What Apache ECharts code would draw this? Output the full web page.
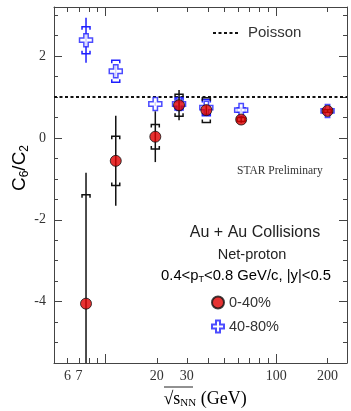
<!DOCTYPE html>
<html>
<head>
<meta charset="utf-8">
<script src="https://cdn.jsdelivr.net/npm/echarts@6/dist/echarts.min.js"></script>
<style>
  html, body { margin: 0; padding: 0; background: #fff; }
  #container { width: 351px; height: 411px; }
</style>
</head>
<body>
<div id="container"></div>
<script>
// collision energies (GeV)
var energies = [7.7, 11.5, 19.6, 27, 39, 62.4, 200];
// 0-40% centrality
var central = [-4.05, -0.56, 0.03, 0.80, 0.68, 0.45, 0.66];
var centralStat = [3.2, 1.1, 0.62, 0.37, 0.12, 0.08, 0.05];
var centralSys = [2.66, 0.6, 0.3, 0.27, 0.3, 0.05, 0.03];
// 40-80% centrality
var peripheral = [2.39, 1.63, 0.83, 0.83, 0.74, 0.68, 0.66];
var peripheralStat = [0.55, 0.15, 0.05, 0.1, 0.08, 0.05, 0.03];
var peripheralSys = [0.33, 0.27, 0, 0.15, 0.2, 0.05, 0];
var poissonValue = 1;

var xRange = [5, 260];
var yRange = [-5.5, 3.2];
var xMinorTicks = [6, 7, 8, 9, 20, 30, 40, 50, 60, 70, 80, 90, 200];
var xMajorTicks = [10, 100];
var xLabels = [6, 7, 20, 30, 100, 200];
var yMajorTicks = [-4, -2, 0, 2];

var lg = function (v) { return Math.log10(v); };
var serif = '"Liberation Serif", "DejaVu Serif", serif';
var sans = '"Liberation Sans", Arial, sans-serif';

function points(ys, stat, sys) {
    return energies.map(function (e, i) {
        return [lg(e), ys[i], stat[i], sys[i]];
    });
}

function errRender(color) {
    return function (params, api) {
        var x = api.value(0), y = api.value(1), st = api.value(2), sy = api.value(3);
        var p0 = api.coord([x, y + st]), p1 = api.coord([x, y - st]);
        var children = [{
            type: 'line',
            shape: { x1: p0[0], y1: p0[1], x2: p1[0], y2: p1[1] },
            style: { stroke: color, lineWidth: 1.5 }
        }];
        if (sy > 0) {
            var t = api.coord([x, y + sy]), b = api.coord([x, y - sy]);
            var w = 4, h = 3;
            children.push({
                type: 'polyline',
                shape: { points: [[t[0] - w, t[1] + h], [t[0] - w, t[1]], [t[0] + w, t[1]], [t[0] + w, t[1] + h]] },
                style: { stroke: color, fill: null, lineWidth: 1.5 }
            });
            children.push({
                type: 'polyline',
                shape: { points: [[b[0] - w, b[1] - h], [b[0] - w, b[1]], [b[0] + w, b[1]], [b[0] + w, b[1] - h]] },
                style: { stroke: color, fill: null, lineWidth: 1.5 }
            });
        }
        return { type: 'group', children: children };
    };
}

function xAxis(pos, ticks, len, showLine, labels) {
    return {
        type: 'value',
        position: pos,
        offset: 0,
        min: lg(xRange[0]),
        max: lg(xRange[1]),
        splitLine: { show: false },
        axisLine: { show: showLine, onZero: false, lineStyle: { color: '#444', width: 1 } },
        axisTick: { show: true, inside: true, length: len, customValues: ticks.map(lg), lineStyle: { color: '#444' } },
        axisLabel: labels ? {
            show: true,
            customValues: labels.map(lg),
            margin: 6,
            fontFamily: serif,
            fontSize: 14,
            color: '#333',
            formatter: function (v) { return String(Math.round(Math.pow(10, v))); }
        } : { show: false }
    };
}

function yAxis(pos, major, showLine, labels) {
    var a = {
        type: 'value',
        position: pos,
        offset: 0,
        min: yRange[0],
        max: yRange[1],
        splitLine: { show: false },
        axisLine: { show: showLine, onZero: false, lineStyle: { color: '#444', width: 1 } },
        axisTick: { show: true, inside: true, length: major ? 8 : 4, lineStyle: { color: '#444' } },
        axisLabel: { show: false }
    };
    if (major) {
        a.axisTick.customValues = yMajorTicks;
    } else {
        a.interval = 0.5;
    }
    if (labels) {
        a.axisLabel = {
            show: true,
            customValues: yMajorTicks,
            margin: 8,
            fontFamily: serif,
            fontSize: 14,
            color: '#333'
        };
    }
    return a;
}

var crossPath = 'path://M4,0 H8 V4 H12 V8 H8 V12 H4 V8 H0 V4 H4 Z';

var myChart = echarts.init(document.getElementById('container'));
var option = {
    animation: false,
    grid: { left: 54, top: 7, right: 4, bottom: 48 },
    legend: [{
        data: ['0-40%', '40-80%'],
        orient: 'vertical',
        left: 206,
        top: 290,
        itemWidth: 12,
        itemHeight: 12,
        itemGap: 9,
        textStyle: { fontFamily: sans, fontSize: 14.5, color: '#333' }
    }],
    xAxis: [
        xAxis('bottom', xMinorTicks, 5, true, xLabels),
        xAxis('bottom', xMajorTicks, 9, false, null),
        xAxis('top', xMinorTicks, 5, true, null),
        xAxis('top', xMajorTicks, 9, false, null)
    ],
    yAxis: [
        yAxis('left', false, true, true),
        yAxis('left', true, false, false),
        yAxis('right', false, true, false),
        yAxis('right', true, false, false)
    ],
    graphic: [
        {
            type: 'line',
            shape: { x1: 213, y1: 33, x2: 239, y2: 33 },
            style: { stroke: '#111', lineWidth: 2, lineDash: [3, 2.5] }
        },
        {
            type: 'text', x: 248, y: 33,
            style: { text: 'Poisson', font: '15px ' + sans, fill: '#333', verticalAlign: 'middle' }
        },
        {
            type: 'text', left: 237, top: 165,
            style: { text: 'STAR Preliminary', font: '11.5px ' + serif, fill: '#333' }
        },
        {
            type: 'text', x: 255, y: 233,
            style: { text: 'Au + Au Collisions', font: '16px ' + sans, fill: '#222', align: 'center', verticalAlign: 'middle' }
        },
        {
            type: 'text', x: 252, y: 255,
            style: { text: 'Net-proton', font: '14.5px ' + sans, fill: '#222', align: 'center', verticalAlign: 'middle' }
        },
        {
            type: 'text', x: 246, y: 276,
            style: {
                text: '{n|0.4<p}{s|T}{n|<0.8 GeV/c, |y|<0.5}',
                align: 'center', verticalAlign: 'middle',
                rich: {
                    n: { fontFamily: sans, fontSize: 14.8, color: '#222' },
                    s: { fontFamily: sans, fontSize: 9, color: '#222', padding: [8, 0, 0, 0] }
                }
            }
        },
        {
            type: 'text', x: 20, y: 168, rotation: Math.PI / 2,
            style: {
                text: '{n|C}{s|6}{n|/C}{s|2}',
                align: 'center', verticalAlign: 'middle',
                rich: {
                    n: { fontFamily: sans, fontSize: 19, color: '#222' },
                    s: { fontFamily: sans, fontSize: 12, color: '#222', padding: [10, 0, 0, 0] }
                }
            }
        },
        {
            type: 'text', x: 205, y: 399,
            style: {
                text: '{r|√}{n|s}{s|NN}{n| (GeV)}',
                align: 'center', verticalAlign: 'middle',
                rich: {
                    r: { fontFamily: serif, fontSize: 18, color: '#222' },
                    n: { fontFamily: serif, fontSize: 18, color: '#222' },
                    s: { fontFamily: serif, fontSize: 11, color: '#222', padding: [8, 0, 0, 0] }
                }
            }
        },
        {
            type: 'line',
            shape: { x1: 164, y1: 387, x2: 193, y2: 387 },
            style: { stroke: '#222', lineWidth: 1 }
        }
    ],
    series: [
        {
            name: 'Poisson',
            type: 'line',
            data: [[lg(xRange[0]), poissonValue], [lg(xRange[1]), poissonValue]],
            symbol: 'none',
            silent: true,
            lineStyle: { color: '#111', width: 2, type: [3, 2.5] },
            itemStyle: { color: '#111' },
            z: 1
        },
        {
            type: 'custom',
            data: points(peripheral, peripheralStat, peripheralSys),
            renderItem: errRender('#1f1fff'),
            clip: true,
            silent: true,
            z: 2
        },
        {
            name: '40-80%',
            type: 'scatter',
            data: points(peripheral, peripheralStat, peripheralSys),
            symbol: crossPath,
            symbolSize: 13,
            itemStyle: { color: '#fff', borderColor: '#1f1fff', borderWidth: 1.5 },
            z: 3
        },
        {
            type: 'custom',
            data: points(central, centralStat, centralSys),
            renderItem: errRender('#111'),
            clip: true,
            silent: true,
            z: 4
        },
        {
            name: '0-40%',
            type: 'scatter',
            data: points(central, centralStat, centralSys),
            symbol: 'circle',
            symbolSize: 11,
            itemStyle: { color: '#e00000', borderColor: '#111', borderWidth: 1 },
            z: 5
        }
    ]
};

if (option && typeof option === "object") {
    myChart.setOption(option, true);
}
</script>
</body>
</html>
